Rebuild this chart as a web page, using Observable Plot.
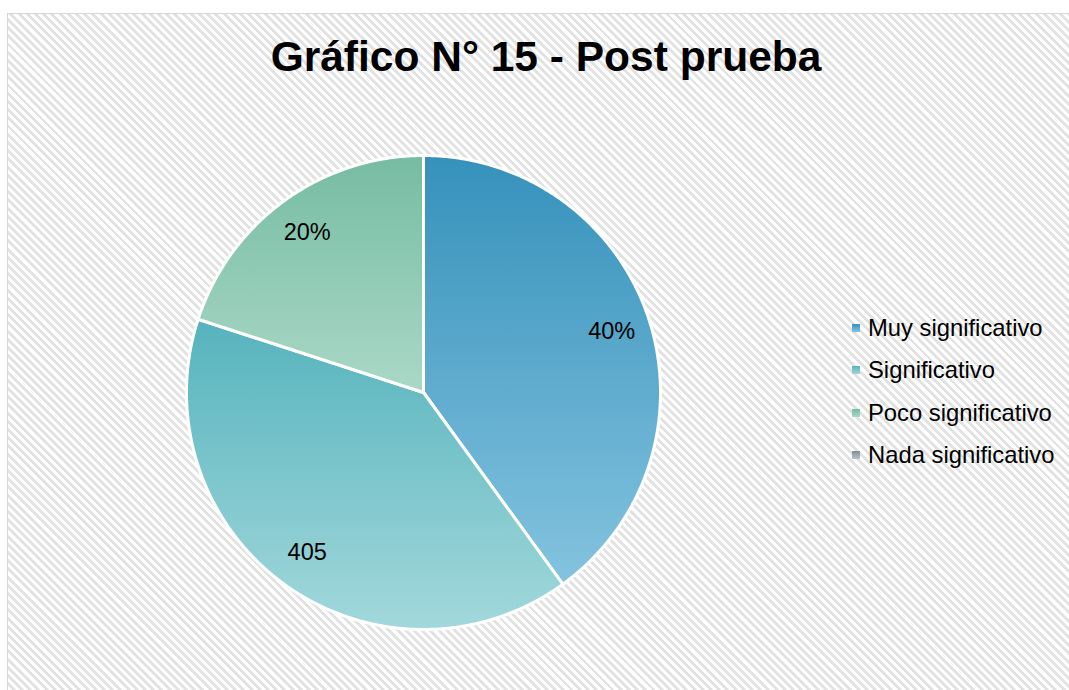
<!DOCTYPE html>
<html>
<head>
<meta charset="utf-8">
<script src="https://cdn.jsdelivr.net/npm/d3@7"></script>
<script src="https://cdn.jsdelivr.net/npm/@observablehq/plot@0.6"></script>
<style>
  html, body { margin: 0; padding: 0; background: #fff; }
  #wrap { position: relative; width: 1069px; height: 690px; overflow: hidden; font-family: Arial, "Liberation Sans", sans-serif; }
  #hatch { position: absolute; left: 7px; top: 13px; width: 1062px; height: 677px; box-sizing: border-box;
    border-left: 1px solid #d6d6d6; border-top: 1px solid #d6d6d6;
    background: repeating-linear-gradient(45deg, #ffffff 0px, #ffffff 3px, #e2e2e2 3px, #e2e2e2 5.8px); }
  #chart { position: absolute; left: 0; top: 0; }
  #title { position: absolute; left: 0; width: 1092px; top: 32px; text-align: center; font-weight: bold; font-size: 42.5px; line-height: 50px; color: #000; }
  .row { position: absolute; left: 852px; height: 42.4px; line-height: 42.4px; display: flex; align-items: center; font-size: 23.8px; color: #000; white-space: nowrap; }
  .sw { width: 8px; height: 8px; margin-right: 8px; flex: none; }
</style>
</head>
<body>
<div id="wrap">
  <div id="hatch"></div>
  <div id="chart"></div>
  <div id="title">Gráfico N° 15 - Post prueba</div>
  <div id="legend"></div>
</div>
<script>
// ---- data ----
const categories = ["Muy significativo", "Significativo", "Poco significativo", "Nada significativo"];
const values = [40, 40, 20, 0];
const sliceLabels = ["40%", "405", "20%", ""];

// ---- style ----
const topColors = ["#3591bb", "#56b3bd", "#76bca2", "#7d8e95"];
const bottomColors = ["#84c3df", "#a2d8db", "#aad8c7", "#b7c4c8"];

const rows = categories.map((c, i) => ({category: c, value: values[i], label: sliceLabels[i], idx: i}));
const arcs = d3.pie().sort(null).value(d => d.value)(rows).filter(a => a.data.value > 0);

// polygon outline of each slice (geometry of the arc)
const pts = [];
for (const a of arcs) {
  const n = Math.max(2, Math.ceil((a.endAngle - a.startAngle) / (Math.PI / 360)));
  pts.push({cat: a.data.category, fill: `url(#grad${a.data.idx})`, px: 0, py: 0});
  for (let k = 0; k <= n; k++) {
    const t = a.startAngle + (a.endAngle - a.startAngle) * k / n;
    pts.push({cat: a.data.category, fill: `url(#grad${a.data.idx})`, px: Math.sin(t), py: Math.cos(t)});
  }
  pts.push({cat: a.data.category, fill: `url(#grad${a.data.idx})`, px: 0, py: 0});
}

const labelR = 0.835;
const labelPts = arcs.map(a => {
  const m = (a.startAngle + a.endAngle) / 2;
  return {label: a.data.label, px: labelR * Math.sin(m), py: labelR * Math.cos(m)};
});

const cx = 423, cy = 392, R = 237;
const plot = Plot.plot({
  width: 1069,
  height: 690,
  margin: 0,
  style: {background: "transparent", overflow: "visible"},
  x: {domain: [-1, 1], range: [cx - R, cx + R], axis: null},
  y: {domain: [-1, 1], range: [cy + R, cy - R], axis: null},
  color: {type: "identity"},
  marks: [
    Plot.line(pts, {x: "px", y: "py", z: "cat", fill: "fill", stroke: "white", strokeWidth: 3, strokeLinejoin: "round", curve: "linear"}),
    Plot.text(labelPts, {x: "px", y: "py", text: "label", fontSize: 23.5, fontFamily: "Arial, 'Liberation Sans', sans-serif", fill: "#000", textAnchor: "middle", lineAnchor: "middle"})
  ]
});

const defs = categories.map((c, i) =>
  `<linearGradient id="grad${i}" x1="0" y1="0" x2="0" y2="1"><stop offset="0" stop-color="${topColors[i]}"/><stop offset="1" stop-color="${bottomColors[i]}"/></linearGradient>`
).join("");
plot.insertAdjacentHTML("afterbegin", `<defs>${defs}</defs>`);
document.getElementById("chart").appendChild(plot);

const legend = document.getElementById("legend");
categories.forEach((c, i) => {
  const r = document.createElement("div");
  r.className = "row";
  r.style.top = (306.8 + i * 42.4) + "px";
  r.innerHTML = `<span class="sw" style="background:linear-gradient(to bottom, ${topColors[i]}, ${bottomColors[i]})"></span><span>${c}</span>`;
  legend.appendChild(r);
});
</script>
</body>
</html>
